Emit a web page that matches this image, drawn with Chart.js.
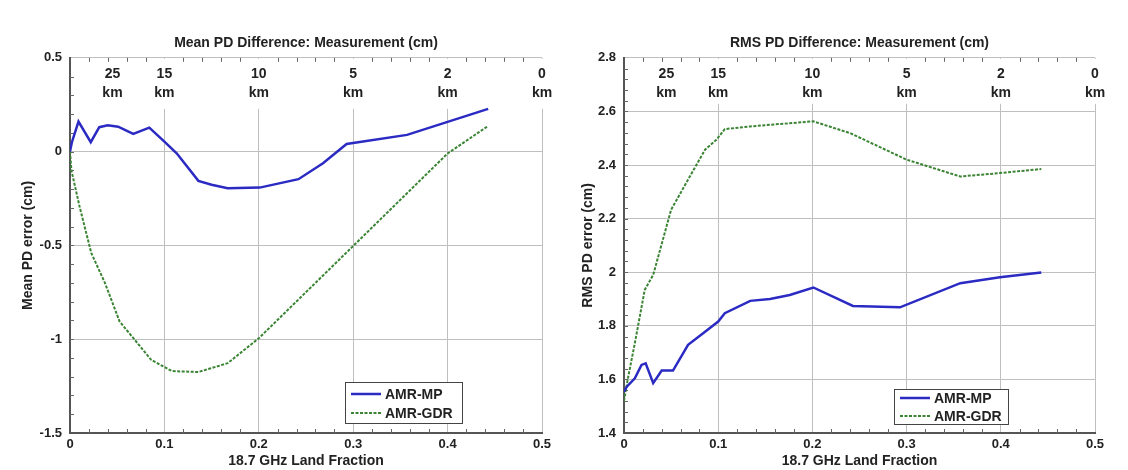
<!DOCTYPE html>
<html><head><meta charset="utf-8">
<script src="https://cdn.jsdelivr.net/npm/chart.js@4.4.0/dist/chart.umd.min.js"></script>
<style>
html,body{margin:0;padding:0;background:#fff;}
#wrap{position:relative;width:1128px;height:470px;background:#fff;}
.c{position:absolute;top:0;height:470px;width:564px;}
#c1{left:0;} #c2{left:564px;}
</style></head><body>
<div id="wrap"><div class="c" id="c1"><canvas id="left"></canvas></div><div class="c" id="c2"><canvas id="right"></canvas></div></div>
<script>
// ---------- data ----------
const seriesNames = ['AMR-MP', 'AMR-GDR'];
const landFracTicks = [0, 0.1, 0.2, 0.3, 0.4, 0.5];
const kmPositions = [0.045, 0.1, 0.2, 0.3, 0.4, 0.5];
const kmLabels = ['25', '15', '10', '5', '2', '0'];

const meanTicks = [-1.5, -1, -0.5, 0, 0.5];
const rmsTicks = [1.4, 1.6, 1.8, 2, 2.2, 2.4, 2.6, 2.8];

const meanMpX = [0, 0.002, 0.009, 0.022, 0.031, 0.040, 0.051, 0.067, 0.084, 0.100, 0.113, 0.136, 0.150, 0.167, 0.201, 0.242, 0.268, 0.293, 0.357, 0.443];
const meanMpY = [0.0, 0.05, 0.16, 0.05, 0.13, 0.14, 0.133, 0.094, 0.128, 0.053, -0.009, -0.156, -0.177, -0.195, -0.192, -0.147, -0.062, 0.041, 0.089, 0.228];

const meanGdrX = [0, 0.0015, 0.010, 0.0225, 0.037, 0.0525, 0.068, 0.086, 0.108, 0.136, 0.167, 0.200, 0.300, 0.357, 0.400, 0.443];
const meanGdrY = [0, -0.10, -0.29, -0.54, -0.70, -0.905, -1.0, -1.11, -1.17, -1.175, -1.128, -0.995, -0.503, -0.222, -0.01, 0.137];

const rmsMpX = [0, 0.003, 0.0115, 0.0186, 0.023, 0.031, 0.040, 0.052, 0.068, 0.084, 0.100, 0.107, 0.134, 0.155, 0.176, 0.201, 0.243, 0.293, 0.357, 0.399, 0.443];
const rmsMpY = [1.554, 1.573, 1.604, 1.654, 1.66, 1.586, 1.633, 1.633, 1.729, 1.772, 1.816, 1.847, 1.893, 1.90, 1.915, 1.943, 1.874, 1.869, 1.959, 1.981, 1.999];

const rmsGdrX = [0, 0.0045, 0.0115, 0.022, 0.031, 0.050, 0.066, 0.086, 0.098, 0.107, 0.134, 0.201, 0.240, 0.300, 0.357, 0.399, 0.443];
const rmsGdrY = [1.52, 1.61, 1.735, 1.934, 1.99, 2.233, 2.333, 2.457, 2.494, 2.534, 2.544, 2.563, 2.519, 2.42, 2.357, 2.37, 2.385];

// ---------- styling ----------
const FONT = '"Liberation Sans", Arial, sans-serif';
const TXT = '#222';
const BLUE = '#2b2bc4';
const GREEN = '#3a8434';

function zip(xs, ys) { return xs.map((x, i) => ({x: x, y: ys[i]})); }

const decor = {
  id: 'decor',
  beforeDatasetsDraw(chart, args, o) {
    const ctx = chart.ctx, a = chart.chartArea;
    const xs = chart.scales.x, ys = chart.scales.y;
    ctx.save();
    // clear band behind km labels
    ctx.fillStyle = '#fff';
    ctx.fillRect(a.left + 1.5, a.top + 1, a.right - a.left, o.band);
    // minor ticks
    ctx.strokeStyle = '#666';
    ctx.lineWidth = 1;
    ctx.beginPath();
    for (let i = 1; i < 25; i++) {
      if (i % 5 === 0) continue;
      const px = Math.round(xs.getPixelForValue(i * 0.02)) + 0.5;
      ctx.moveTo(px, a.bottom); ctx.lineTo(px, a.bottom - 4);
      ctx.moveTo(px, a.top); ctx.lineTo(px, a.top + 4);
    }
    const n = o.yMinorCount;
    for (let i = 1; i < n; i++) {
      const v = ys.min + (ys.max - ys.min) * i / n;
      const py = Math.round(ys.getPixelForValue(v)) + 0.5;
      ctx.moveTo(a.left, py); ctx.lineTo(a.left + 4, py);
    }
    ctx.stroke();
    // km labels
    ctx.fillStyle = TXT;
    ctx.font = 'bold 14px ' + FONT;
    ctx.textAlign = 'center';
    ctx.textBaseline = 'middle';
    kmPositions.forEach((v, i) => {
      const px = xs.getPixelForValue(v);
      ctx.fillText(kmLabels[i], px, a.top + 16);
      ctx.fillText('km', px, a.top + 35);
    });
    ctx.restore();
  },
  afterDatasetsDraw(chart, args, o) {
    const ctx = chart.ctx, a = chart.chartArea;
    const L = o.leg;
    const bx = a.right - L.right, by = a.bottom - L.up, bw = L.w, bh = L.h;
    ctx.save();
    ctx.fillStyle = '#fff';
    ctx.fillRect(bx, by, bw, bh);
    ctx.strokeStyle = '#444';
    ctx.lineWidth = 1;
    ctx.strokeRect(bx + 0.5, by + 0.5, bw, bh);
    ctx.font = 'bold 14px ' + FONT;
    ctx.textBaseline = 'middle';
    ctx.textAlign = 'left';
    chart.data.datasets.forEach((ds, i) => {
      const yy = by + L.first + i * L.step;
      ctx.beginPath();
      ctx.strokeStyle = ds.borderColor;
      ctx.lineWidth = ds.borderWidth;
      ctx.setLineDash(ds.borderDash || []);
      ctx.moveTo(bx + 6, yy); ctx.lineTo(bx + 36, yy);
      ctx.stroke();
      ctx.setLineDash([]);
      ctx.fillStyle = TXT;
      ctx.fillText(ds.label, bx + 40, yy + 1);
    });
    ctx.restore();
  }
};

function makeChart(id, cfg) {
  const tickFont = {family: FONT, size: 13, weight: 'bold'};
  const titleFont = {family: FONT, size: 14, weight: 'bold'};
  return new Chart(document.getElementById(id), {
    type: 'line',
    data: {datasets: [
      {label: seriesNames[0], data: zip(cfg.mpX, cfg.mpY), borderColor: BLUE, borderWidth: 2.5, pointRadius: 0, tension: 0, fill: false},
      {label: seriesNames[1], data: zip(cfg.gdrX, cfg.gdrY), borderColor: GREEN, borderWidth: 2, borderDash: [3, 1.5], pointRadius: 0, tension: 0, fill: false}
    ]},
    options: {
      responsive: true, maintainAspectRatio: false, animation: false,
      layout: {padding: {left: 0, right: cfg.padRight, top: 0, bottom: 0}},
      plugins: {
        legend: {display: false}, tooltip: {enabled: false},
        title: {display: true, text: cfg.title, fullSize: false, color: TXT, font: titleFont, padding: {top: 35, bottom: 6}},
        decor: {band: cfg.band, yMinorCount: cfg.yMinorCount, leg: cfg.leg}
      },
      scales: {
        x: {
          type: 'linear', min: 0, max: 0.5,
          afterBuildTicks: s => { s.ticks = landFracTicks.map(v => ({value: v})); },
          afterFit: s => { s.height = 37; },
          ticks: {color: TXT, font: tickFont, padding: 4, maxRotation: 0, callback: v => String(v)},
          grid: {color: '#bfbfbf', lineWidth: 1, drawTicks: false},
          border: {color: '#555', width: 2},
          title: {display: true, text: '18.7 GHz Land Fraction', color: TXT, font: titleFont, padding: {top: 0, bottom: 0}}
        },
        y: {
          type: 'linear', min: cfg.yTicks[0], max: cfg.yTicks[cfg.yTicks.length - 1],
          afterBuildTicks: s => { s.ticks = cfg.yTicks.map(v => ({value: v})); },
          afterFit: s => { s.width = cfg.yWidth; },
          ticks: {color: TXT, font: tickFont, padding: 8, callback: v => String(v)},
          grid: {color: '#bfbfbf', lineWidth: 1, drawTicks: false},
          border: {color: '#555', width: 2},
          title: {display: true, text: cfg.yTitle, color: TXT, font: titleFont, padding: {top: cfg.yTitlePad, bottom: 0}}
        }
      }
    },
    plugins: [decor]
  });
}

makeChart('left', {
  title: 'Mean PD Difference: Measurement (cm)', yTitle: 'Mean PD error (cm)',
  mpX: meanMpX, mpY: meanMpY, gdrX: meanGdrX, gdrY: meanGdrY,
  yTicks: meanTicks, yWidth: 70, padRight: 22, yTitlePad: 20, band: 50, yMinorCount: 20,
  leg: {right: 197, up: 51, w: 117, h: 41, first: 12, step: 19}
});
makeChart('right', {
  title: 'RMS PD Difference: Measurement (cm)', yTitle: 'RMS PD error (cm)',
  mpX: rmsMpX, mpY: rmsMpY, gdrX: rmsGdrX, gdrY: rmsGdrY,
  yTicks: rmsTicks, yWidth: 60, padRight: 33, yTitlePad: 16, band: 45, yMinorCount: 35,
  leg: {right: 201, up: 44, w: 114, h: 35, first: 9, step: 18}
});
</script>
</body></html>
